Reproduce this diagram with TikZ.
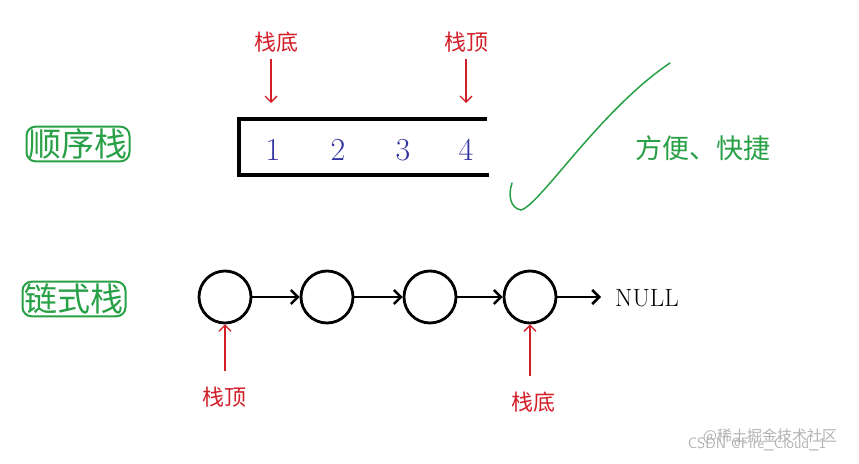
\documentclass[tikz,border=0pt]{standalone}
\usepackage{fontspec}
\newfontfamily\cjk{Noto Sans CJK SC}
\usetikzlibrary{arrows.meta}
\definecolor{gr}{RGB}{40,160,70}
\definecolor{rd}{RGB}{210,30,40}
\definecolor{bl}{RGB}{50,50,160}
\tikzset{
 lbl/.style={text=gr,font=\cjk\fontsize{30}{32}\selectfont},
 lblbox/.style={draw=gr,line width=2pt,rounded corners=9pt,inner sep=2pt,text=gr,font=\cjk\fontsize{33}{35}\selectfont},
 rlab/.style={text=rd,font=\cjk\fontsize{22}{24}\selectfont},
 rarr/.style={draw=rd,line width=1.3pt,-{Straight Barb[length=6pt,width=12pt]}},
 num/.style={text=bl,font=\fontsize{32}{34}\selectfont},
 cir/.style={draw,circle,line width=2.8pt,minimum size=52pt,inner sep=0pt},
 carr/.style={draw,line width=2.5pt,-{Straight Barb[length=7pt,width=14pt]}},
 wm/.style={text=gray!60,font=\cjk\fontsize{15}{16}\selectfont}
}
\begin{document}
\begin{tikzpicture}[x=1pt,y=-1pt]
\useasboundingbox[fill=white] (0,0) rectangle (859,463);
\node[lblbox] (s1) at (78,144) {顺序栈};
\node[lblbox] (s2) at (74,299) {链式栈};
\draw[line width=4pt] (487,119) -- (239,119) -- (239,175) -- (489,175);
\node[num] (n1) at (273,150) {1};
\node[num] (n2) at (338,150) {2};
\node[num] (n3) at (403,150) {3};
\node[num] (n4) at (466,150) {4};
\node[rlab] (b1) at (276,42) {栈底};
\node[rlab] (t1) at (466,42) {栈顶};
\coordinate (b1e) at (271,103);
\coordinate (t1e) at (466,103);
\draw[rarr] (b1.south -| b1e) ++(0,3) -- (b1e);
\draw[rarr] (t1.south) ++(0,3) -- (t1e);
\draw[gr,line width=1.5pt,line cap=round] (512,183) .. controls (508,195) and (510,208) .. (521,210) .. controls (540,205) and (600,110) .. (670,63);
\node[lbl,font=\cjk\fontsize{27}{29}\selectfont] (fb) at (703,148) {方便、快捷};
\node[cir] (c1) at (225,297) {};
\node[cir] (c2) at (327,297) {};
\node[cir] (c3) at (430,297) {};
\node[cir] (c4) at (530,297) {};
\node[font=\fontsize{25}{27}\selectfont,anchor=west,inner sep=0pt] (null) at (615,298) {NULL};
\coordinate (nulle) at (601,297);
\draw[carr] (c1) -- (c2);
\draw[carr] (c2) -- (c3);
\draw[carr] (c3) -- (c4);
\draw[carr] (c4) -- (nulle);
\node[rlab] (t2) at (224,397) {栈顶};
\node[rlab] (b2) at (533,402) {栈底};
\draw[rarr] (t2.north -| c1) ++(0,-12) -- (c1.south);
\draw[rarr] (b2.north -| c4) ++(0,-12) -- (c4.south);
\node[wm] (w1) at (770,436) {@稀土掘金技术社区};
\node[wm,font=\fontsize{15}{16}\selectfont\sffamily] (w2) at (757,444) {CSDN @Fire\_Cloud\_1};
\end{tikzpicture}
\end{document}
